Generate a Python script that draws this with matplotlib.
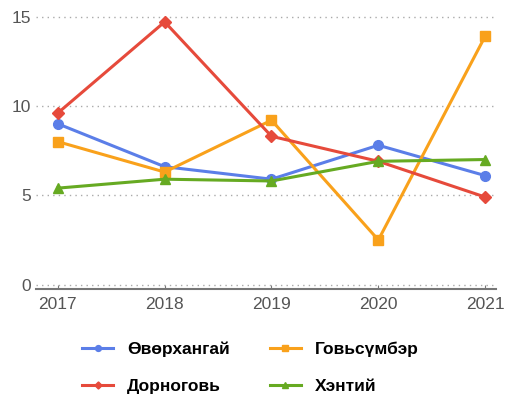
import matplotlib.pyplot as plt

plt.rcParams['font.family'] = ['Liberation Sans', 'DejaVu Sans']

years = [2017, 2018, 2019, 2020, 2021]
names = ['Өвөрхангай', 'Говьсүмбэр', 'Дорноговь', 'Хэнтий']
uvurkhangai = [9.0, 6.6, 5.9, 7.8, 6.1]
govisumber = [8.0, 6.3, 9.2, 2.5, 13.9]
dornogovi = [9.6, 14.7, 8.3, 6.9, 4.9]
khentii = [5.4, 5.9, 5.8, 6.9, 7.0]
yticks = [0, 5, 10, 15]

fig = plt.figure(figsize=(5.06, 4.01), dpi=100)
ax = fig.add_axes([0.072, 0.279, 0.908, 0.682])

series = [
    (uvurkhangai, '#5b7ee8', 'o'),
    (govisumber, '#f9a11b', 's'),
    (dornogovi, '#e64a3b', 'D'),
    (khentii, '#66aa22', '^'),
]
lines = []
for (vals, col, mk), nm in zip(series, names):
    ms = 6 if mk == 'D' else 7
    l, = ax.plot(years, vals, color=col, lw=2.2, marker=mk, ms=ms, label=nm, zorder=3)
    lines.append(l)

ax.set_xlim(2016.8, 2021.1)
ax.set_ylim(-0.25, 15.05)
ax.set_xticks(years)
ax.set_yticks(yticks)
ax.grid(axis='y', color='#aaaaaa', linestyle=(0, (1, 3)), lw=1)
for s in ['top', 'right', 'left']:
    ax.spines[s].set_visible(False)
ax.spines['bottom'].set_color('#777777')
ax.spines['bottom'].set_linewidth(1.5)
ax.tick_params(axis='y', length=0, labelsize=12.5, labelcolor='#555555', pad=4)
ax.tick_params(axis='x', direction='in', length=3, color='#777777',
               labelsize=12.5, labelcolor='#555555', pad=6)

# row-major order: matplotlib fills legend columns first
leg = fig.legend(handles=[lines[0], lines[2], lines[1], lines[3]], ncol=2,
                 loc='center', bbox_to_anchor=(0.495, 0.083), frameon=False,
                 prop={'weight': 'bold', 'size': 12.5}, handlelength=1.8,
                 handletextpad=0.8, columnspacing=2.3, labelspacing=1.3,
                 markerscale=0.6)

fig.savefig('out.png', dpi=100)
